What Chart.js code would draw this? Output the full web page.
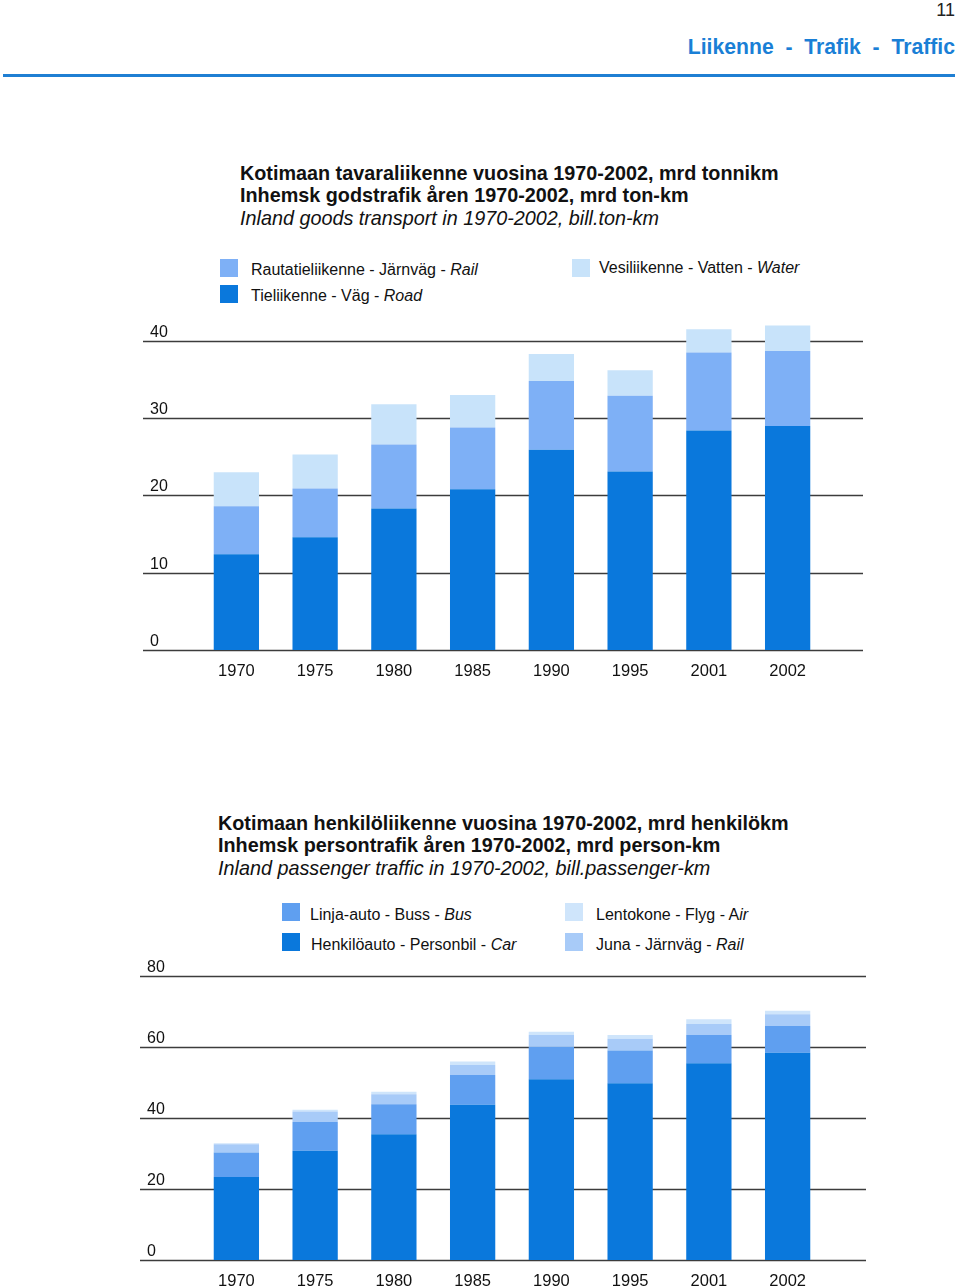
<!DOCTYPE html>
<html>
<head>
<meta charset="utf-8">
<script src="https://cdn.jsdelivr.net/npm/chart.js@4.4.0/dist/chart.umd.min.js"></script>
<style>
body { margin: 0; background: #fff; font-family: "Liberation Sans", Arial, sans-serif; color: #111; }
#page { position: relative; width: 960px; height: 1287px; overflow: hidden; }
.abs { position: absolute; white-space: pre; }
.title { font-size: 19.8px; line-height: 22px; font-weight: bold; }
.title i { font-weight: normal; }
.leg { font-size: 16px; line-height: 18px; }
.sw { position: absolute; width: 18px; height: 18px; }
canvas { position: absolute; }
</style>
</head>
<body>
<div id="page">
	<div class="abs" style="right:5px; top:0px; font-size:18px; line-height:20px; color:#222;">11</div>
	<div class="abs" style="right:5px; top:35px; font-size:21.2px; line-height:24px; font-weight:bold; color:#1a7fd6;">Liikenne  -  Trafik  -  Traffic</div>
	<div class="abs" style="left:3px; top:74px; width:952px; height:3px; background:#1f7fd3;"></div>

	<!-- goods -->
	<div class="abs title" style="left:240px; top:162px;">Kotimaan tavaraliikenne vuosina 1970-2002, mrd tonnikm</div>
	<div class="abs title" style="left:240px; top:184px;">Inhemsk godstrafik åren 1970-2002, mrd ton-km</div>
	<div class="abs title" style="left:240px; top:207px;"><i>Inland goods transport in 1970-2002, bill.ton-km</i></div>

	<div class="sw" style="left:220px; top:259px; background:#7eb0f6;"></div>
	<div class="abs leg" style="left:251px; top:261px;">Rautatieliikenne - Järnväg - <i>Rail</i></div>
	<div class="sw" style="left:220px; top:285px; background:#0a78dc;"></div>
	<div class="abs leg" style="left:251px; top:287px;">Tieliikenne - Väg - <i>Road</i></div>
	<div class="sw" style="left:572px; top:259px; background:#c8e3fa;"></div>
	<div class="abs leg" style="left:599px; top:259px;">Vesiliikenne - Vatten - <i>Water</i></div>

	<canvas id="goodsChart" width="750" height="400" style="left:130px; top:300px;"></canvas>

	<!-- passengers -->
	<div class="abs title" style="left:218px; top:812px;">Kotimaan henkilöliikenne vuosina 1970-2002, mrd henkilökm</div>
	<div class="abs title" style="left:218px; top:834px;">Inhemsk persontrafik åren 1970-2002, mrd person-km</div>
	<div class="abs title" style="left:218px; top:857px;"><i>Inland passenger traffic in 1970-2002, bill.passenger-km</i></div>

	<div class="sw" style="left:282px; top:903px; background:#5f9ff0;"></div>
	<div class="abs leg" style="left:310px; top:906px;">Linja-auto - Buss - <i>Bus</i></div>
	<div class="sw" style="left:282px; top:933px; background:#0a78dc;"></div>
	<div class="abs leg" style="left:311px; top:936px;">Henkilöauto - Personbil - <i>Car</i></div>
	<div class="sw" style="left:565px; top:903px; background:#cfe5fb;"></div>
	<div class="abs leg" style="left:596px; top:906px;">Lentokone - Flyg - A<i>ir</i></div>
	<div class="sw" style="left:565px; top:933px; background:#a8cbf8;"></div>
	<div class="abs leg" style="left:596px; top:936px;">Juna - Järnväg - <i>Rail</i></div>

	<canvas id="passengerChart" width="750" height="337" style="left:130px; top:950px;"></canvas>
</div>

<script>
"use strict";

var years = ['1970', '1975', '1980', '1985', '1990', '1995', '2001', '2002'];

// goods, bill. ton-km
var goodsRoad = [12.4, 14.6, 18.3, 20.8, 25.9, 23.1, 28.4, 29.0];
var goodsRail = [6.2, 6.3, 8.3, 8.0, 8.9, 9.8, 10.1, 9.7];
var goodsWater = [4.4, 4.4, 5.2, 4.2, 3.5, 3.3, 3.0, 3.3];
var goodsTicks = [0, 10, 20, 30, 40];

// passengers, bill. passenger-km
var passCar = [23.4, 30.8, 35.4, 43.7, 50.9, 49.8, 55.4, 58.4];
var passBus = [6.9, 8.1, 8.5, 8.4, 9.2, 9.2, 8.0, 7.5];
var passRail = [2.3, 2.9, 2.8, 2.8, 3.3, 3.3, 3.1, 3.3];
var passAir = [0.3, 0.5, 0.7, 1.0, 0.9, 1.1, 1.3, 1.0];
var passTicks = [0, 20, 40, 60, 80];

// horizontal lines + value labels, wider than the bar area
var gridLines = {
	id: 'gridLines',
	beforeDatasetsDraw: function (chart, args, opts) {
		var ctx = chart.ctx;
		var yScale = chart.scales.y;
		ctx.save();
		opts.ticks.forEach(function (v) {
			var py = Math.round(yScale.getPixelForValue(v)) + 0.5;
			ctx.strokeStyle = '#3c3c3c';
			ctx.lineWidth = 1.3;
			ctx.beginPath();
			ctx.moveTo(opts.x0, py);
			ctx.lineTo(opts.x1, py);
			ctx.stroke();
			ctx.fillStyle = '#111';
			ctx.font = '16px "Liberation Sans", Arial, sans-serif';
			ctx.textAlign = 'left';
			ctx.textBaseline = 'bottom';
			ctx.fillText(String(v), opts.labelX, py - 1);
		});
		ctx.restore();
	}
};

function BuildStackedChart(canvasId, datasets, yMax, ticks, grid, padTop, axisHeight) {
	return new Chart(document.getElementById(canvasId), {
		type: 'bar',
		data: {
			labels: years,
			datasets: datasets
		},
		plugins: [gridLines],
		options: {
			responsive: false,
			animation: false,
			devicePixelRatio: 1,
			layout: {
				padding: { left: 67, right: 53, top: padTop, bottom: 0 }
			},
			datasets: {
				bar: { categoryPercentage: 1, barPercentage: 0.575 }
			},
			plugins: {
				legend: { display: false },
				tooltip: { enabled: false },
				gridLines: { ticks: ticks, x0: grid[0], x1: grid[1], labelX: grid[2] }
			},
			scales: {
				x: {
					stacked: true,
					grid: { display: false, drawTicks: false },
					border: { display: false },
					ticks: {
						color: '#111',
						padding: 12,
						font: { family: '"Liberation Sans", Arial, sans-serif', size: 16.5 }
					},
					afterFit: function (scale) { scale.height = axisHeight; }
				},
				y: {
					stacked: true,
					display: false,
					min: 0,
					max: yMax
				}
			}
		}
	});
}

BuildStackedChart('goodsChart', [
	{ label: 'Road', data: goodsRoad, backgroundColor: '#0a78dc' },
	{ label: 'Rail', data: goodsRail, backgroundColor: '#7eb0f6' },
	{ label: 'Water', data: goodsWater, backgroundColor: '#c8e3fa' }
], 44, goodsTicks, [13, 733, 20], 10, 50);

BuildStackedChart('passengerChart', [
	{ label: 'Car', data: passCar, backgroundColor: '#0a78dc' },
	{ label: 'Bus', data: passBus, backgroundColor: '#5f9ff0' },
	{ label: 'Rail', data: passRail, backgroundColor: '#a8cbf8' },
	{ label: 'Air', data: passAir, backgroundColor: '#cfe5fb' }
], 80, passTicks, [10, 736, 17], 26, 27);
</script>
</body>
</html>
